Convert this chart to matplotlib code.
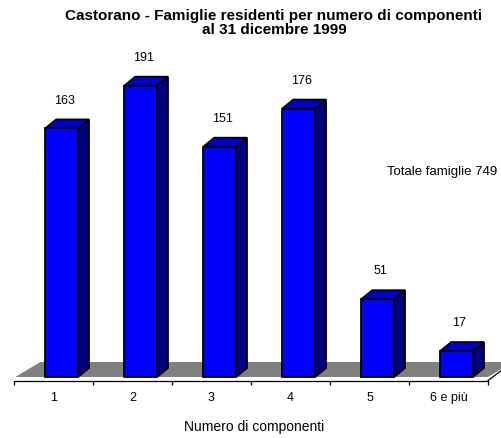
import matplotlib
matplotlib.use("Agg")
import matplotlib.pyplot as plt
from matplotlib.patches import Polygon, Rectangle

# ---------------- data ----------------
categories = ["1", "2", "3", "4", "5", "6 e più"]
values = [163, 191, 151, 176, 51, 17]
total_label = "Totale famiglie 749"
title_lines = ["Castorano - Famiglie residenti per numero di componenti",
               "al 31 dicembre 1999"]
xlabel = "Numero di componenti"

# ---------------- style ----------------
plt.rcParams['font.family'] = ['Liberation Sans', 'DejaVu Sans']
W, H = 502, 438
DPI = 100
left_px, right_px, bottom_px, top_px = 14, 488, 380.5, 40
zero_px = 377.0
px_per_val = 1.525
n = len(categories)
px_per_cat = (right_px - left_px) / n

front_col = "#0000FF"
top_col = "#0000CC"
side_col = "#000080"
floor_col = "#808080"

bar_x0, bar_x1 = 0.395, 0.81          # front face inside each category
dx = 11 / px_per_cat                   # bar depth (x)
dy = 9 / px_per_val                    # bar depth (y)
fdx = 25 / px_per_cat                  # floor depth
fdy = 15 / px_per_val

fig = plt.figure(figsize=(W / DPI, H / DPI), dpi=DPI)
ax = fig.add_axes([left_px / W, 1 - bottom_px / H,
                   (right_px - left_px) / W, (bottom_px - top_px) / H])
ax.set_xlim(0, n)
ax.set_ylim((zero_px - bottom_px) / px_per_val, (zero_px - top_px) / px_per_val)

# floor
floor = Polygon([(0, 0), (n, 0), (n + fdx, fdy), (fdx, fdy)], closed=True,
                fc=floor_col, ec='none', clip_on=False, zorder=1)
ax.add_patch(floor)
ax.plot([0, fdx], [0, fdy], color='white', lw=1.0, clip_on=False, zorder=2)
ybot = ax.get_ylim()[0]
ax.plot([n, n + fdx * 0.6], [ybot, ybot + fdy * 0.75], color='black', lw=0.9,
        clip_on=False, zorder=2)

# bars
lw = 1.3
for i, v in enumerate(values):
    x0, x1 = i + bar_x0, i + bar_x1
    side = Polygon([(x1, 0), (x1 + dx, dy), (x1 + dx, v + dy), (x1, v)], closed=True,
                   fc=side_col, ec='black', lw=lw, joinstyle='miter', zorder=3, clip_on=False)
    top = Polygon([(x0, v), (x1, v), (x1 + dx, v + dy), (x0 + dx, v + dy)], closed=True,
                  fc=top_col, ec='black', lw=lw, joinstyle='miter', zorder=3, clip_on=False)
    front = Rectangle((x0, 0), x1 - x0, v, fc=front_col, ec='black', lw=lw,
                      joinstyle='miter', zorder=4, clip_on=False)
    ax.add_patch(side)
    ax.add_patch(top)
    ax.add_patch(front)
    ax.annotate(str(v), xy=((x0 + x1) / 2, v), xytext=(2, 20), textcoords='offset points',
                ha='center', va='center', fontsize=9, color='black')

# axes styling
for s in ['left', 'right', 'top']:
    ax.spines[s].set_visible(False)
ax.spines['bottom'].set_linewidth(0.9)
ax.set_yticks([])
ax.set_xticks(range(n + 1))
ax.set_xticklabels([])
ax.tick_params(axis='x', which='major', direction='out', length=3, width=0.9)
ax.set_xticks([i + 0.5 for i in range(n)], minor=True)
ax.set_xticklabels(categories, minor=True, fontsize=9)
ax.tick_params(axis='x', which='minor', length=0, pad=8.5)

ax.set_xlabel(xlabel, fontsize=10, va='center')
ax.xaxis.set_label_coords((254 - left_px) / (right_px - left_px),
                          (bottom_px - 427) / (bottom_px - top_px))

fig.text(387 / W, 1 - 172 / H, total_label, ha='left', va='center', fontsize=9.5)
fig.text(274 / W, 1 - 16 / H, title_lines[0], ha='center', va='center',
         fontsize=11, fontweight='bold')
fig.text(274 / W, 1 - 30 / H, title_lines[1], ha='center', va='center',
         fontsize=11, fontweight='bold')

fig.savefig("out.png", dpi=DPI)
